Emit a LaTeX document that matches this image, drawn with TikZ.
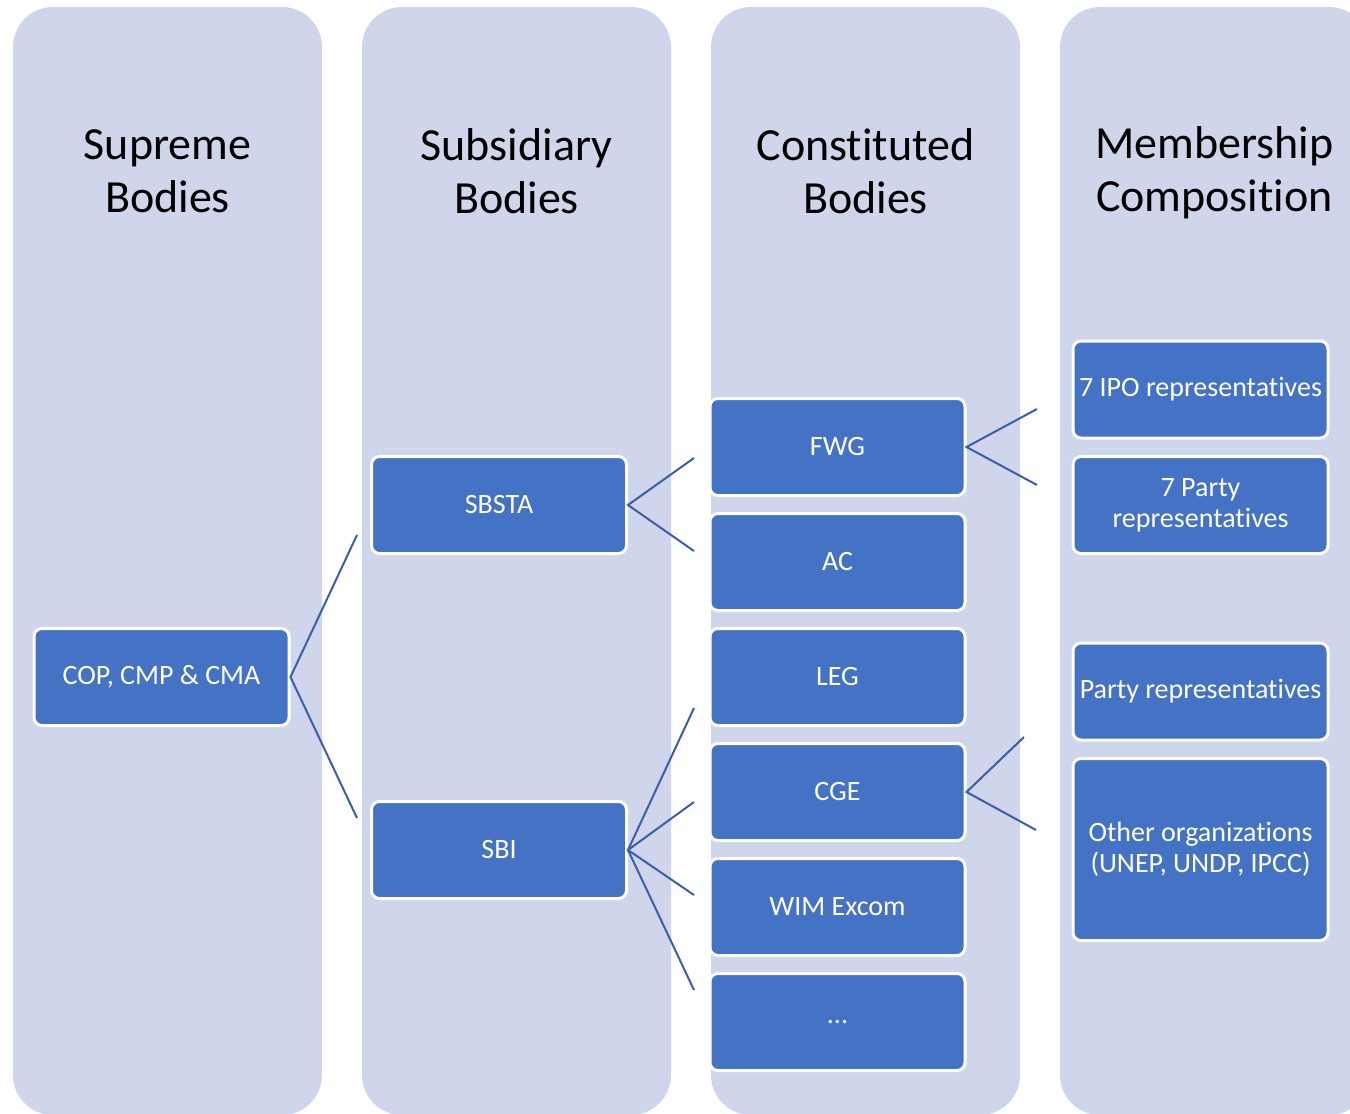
\documentclass[tikz,border=0pt]{standalone}
\usepackage{fontspec}
\setmainfont[Ligatures=NoCommon]{Carlito}
\usetikzlibrary{calc}

\definecolor{lane}{HTML}{CFD5EA}
\definecolor{boxblue}{HTML}{4472C4}
\definecolor{linkblue}{HTML}{3B5EAB}

\begin{document}
\begin{tikzpicture}[x=1pt,y=-1pt,
  column/.style={rectangle,fill=lane,rounded corners=40pt,minimum width=309pt,minimum height=1108pt},
  header/.style={align=center,font=\fontsize{46}{53}\selectfont,text=black},
  body/.style={rectangle,draw=white,line width=3pt,fill=boxblue,rounded corners=8pt,minimum width=255pt,minimum height=97pt,align=center,text=white,font=\fontsize{28}{31}\selectfont},
  link/.style={draw=linkblue,line width=2pt}]
\clip (0,0) rectangle (1350,1114);

% lanes
\node[column] (supreme) at (167.5,561) {};
\node[column] (subsidiary) at (516.5,561) {};
\node[column] (constituted) at (865.5,561) {};
\node[column] (membership) at (1214.5,561) {};

\node[header] (supremetitle) at (167.5,171) {Supreme\\Bodies};
\node[header] (subsidiarytitle) at (516.5,171) {Subsidiary\\Bodies};
\node[header] (constitutedtitle) at (865.5,171) {Constituted\\Bodies};
\node[header] (membershiptitle) at (1214.5,173) {Membership\\Composition};

% boxes
\node[body] (cop) at (161.5,677) {COP, CMP \& CMA};
\node[body] (sbsta) at (499,505) {SBSTA};
\node[body] (sbi) at (499,850) {SBI};

\node[body] (fwg) at (837.5,447) {FWG};
\node[body] (ac) at (837.5,562) {AC};
\node[body] (leg) at (837.5,677) {LEG};
\node[body] (cge) at (837.5,792) {CGE};
\node[body] (wim) at (837.5,907) {WIM Excom};
\node[body] (more) at (837.5,1022) {...};

\node[body] (ipo) at (1200.5,389.5) {7 IPO representatives};
\node[body] (party) at (1200.5,505) {7 Party\\representatives};
\node[body] (partyreps) at (1200.5,691.5) {Party representatives};
\node[body,minimum height=182pt] (otherorgs) at (1200.5,849.5) {Other organizations\\(UNEP, UNDP, IPCC)};

% fans
\coordinate (copup) at (357,535);
\coordinate (copdown) at (357,818);
\coordinate (sbstaup) at (694,458);
\coordinate (sbstadown) at (694,551);
\coordinate (sbia) at (694,708);
\coordinate (sbib) at (694,802);
\coordinate (sbic) at (694,895);
\coordinate (sbid) at (694,990);
\coordinate (fwgup) at (1037,409);
\coordinate (fwgdown) at (1037,485);
\coordinate (cgeup) at (1024,737);
\coordinate (cgedown) at (1036,830);

\draw[link] (copup) -- (cop.east) -- (copdown);
\draw[link] (sbstaup) -- (sbsta.east) -- (sbstadown);
\draw[link] (sbia) -- (sbi.east) -- (sbid);
\draw[link] (sbib) -- (sbi.east) -- (sbic);
\draw[link] (fwgup) -- (fwg.east) -- (fwgdown);
\draw[link] (cgeup) -- (cge.east) -- (cgedown);

\end{tikzpicture}
\end{document}
